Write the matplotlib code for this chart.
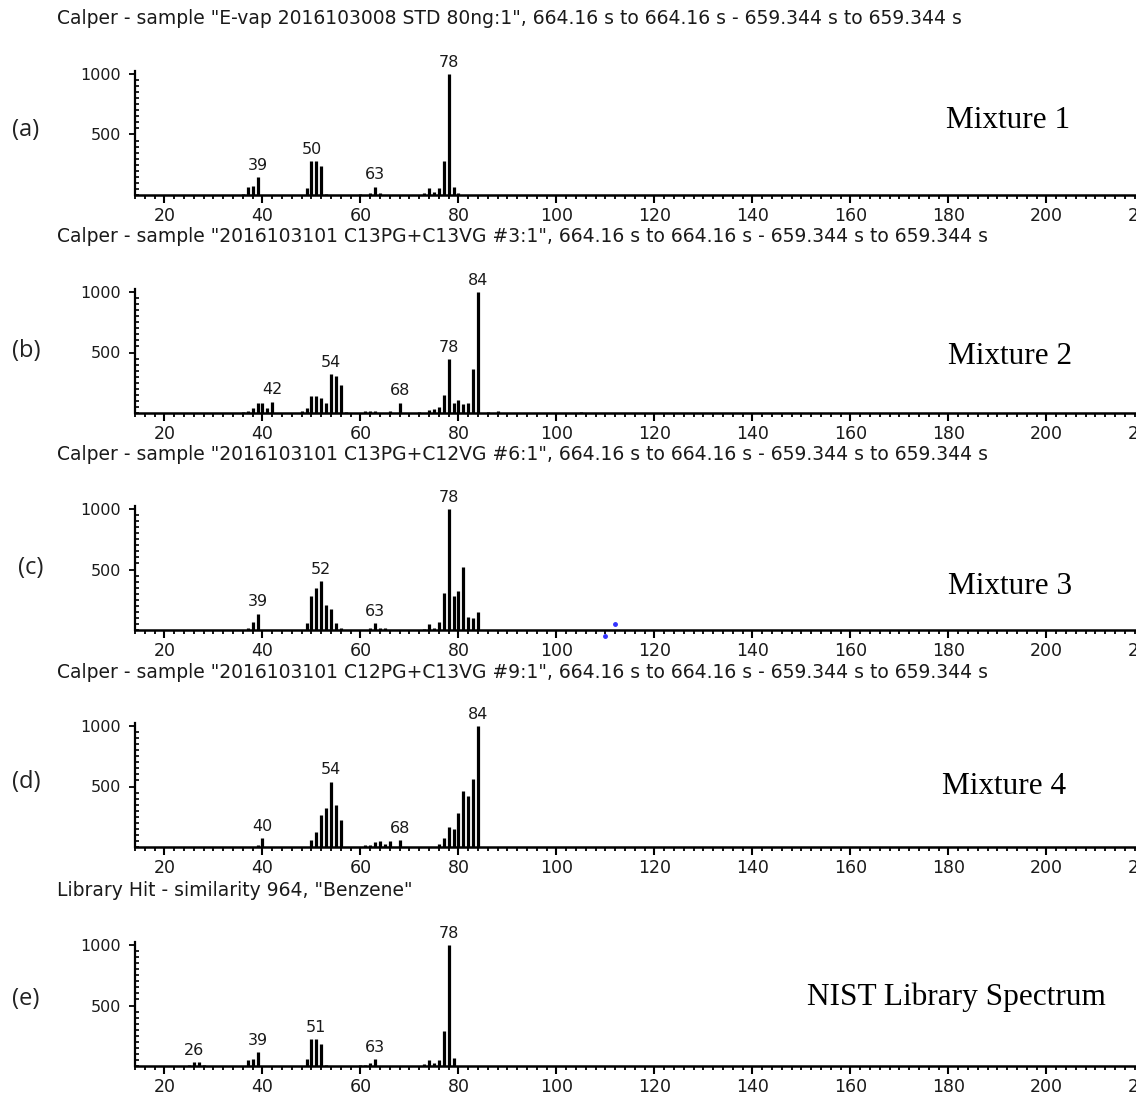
import matplotlib
matplotlib.use("Agg")
import matplotlib.pyplot as plt
from matplotlib.ticker import MultipleLocator, FixedLocator

# ---------------- data ----------------
titles = [
    'Calper - sample "E-vap 2016103008 STD 80ng:1", 664.16 s to 664.16 s - 659.344 s to 659.344 s',
    'Calper - sample "2016103101 C13PG+C13VG #3:1", 664.16 s to 664.16 s - 659.344 s to 659.344 s',
    'Calper - sample "2016103101 C13PG+C12VG #6:1", 664.16 s to 664.16 s - 659.344 s to 659.344 s',
    'Calper - sample "2016103101 C12PG+C13VG #9:1", 664.16 s to 664.16 s - 659.344 s to 659.344 s',
    'Library Hit - similarity 964, "Benzene"',
]
panel_tags = ["(a)", "(b)", "(c)", "(d)", "(e)"]
panel_names = ["Mixture 1", "Mixture 2", "Mixture 3", "Mixture 4", "NIST Library Spectrum"]

mz_a = [36, 37, 38, 39, 49, 50, 51, 52, 53, 60, 62, 63, 64, 73, 74, 75, 76, 77, 78, 79, 80]
int_a = [12, 69, 74, 146, 55, 281, 281, 242, 10, 12, 19, 69, 18, 19, 55, 28, 55, 281, 1000, 69, 15]
lab_a = [39, 50, 63, 78]

mz_b = [36, 37, 38, 39, 40, 41, 42, 48, 49, 50, 51, 52, 53, 54, 55, 56, 57,
        61, 62, 63, 66, 68, 72, 74, 75, 76, 77, 78, 79, 80, 81, 82, 83, 84, 86, 88, 105]
int_b = [10, 20, 45, 80, 80, 45, 95, 20, 45, 140, 140, 120, 80, 322, 308, 230, 12,
         15, 20, 18, 20, 86, 12, 25, 30, 50, 146, 443, 86, 105, 73, 86, 365, 1000, 10, 15, 8]
lab_b = [42, 54, 68, 78, 84]

mz_c = [37, 38, 39, 49, 50, 51, 52, 53, 54, 55, 56, 62, 63, 64, 65,
        73, 74, 75, 76, 77, 78, 79, 80, 81, 82, 83, 84]
int_c = [20, 70, 135, 55, 283, 347, 403, 208, 172, 55, 15, 15, 55, 20, 20,
         12, 47, 15, 70, 309, 1000, 281, 323, 518, 111, 100, 152]
lab_c = [39, 52, 63, 78]
artifact_c_mz = [110, 112]
artifact_c_int = [-50, 50]

mz_d = [39, 40, 50, 51, 52, 53, 54, 55, 56, 61, 62, 63, 64, 65, 66, 68,
        76, 77, 78, 79, 80, 81, 82, 83, 84]
int_d = [14, 76, 58, 128, 266, 322, 540, 343, 226, 20, 14, 42, 48, 28, 48, 56,
         28, 75, 168, 151, 284, 462, 420, 560, 1000]
lab_d = [40, 54, 68, 84]

mz_e = [25, 26, 27, 28, 37, 38, 39, 49, 50, 51, 52, 53, 60, 61, 62, 63,
        73, 74, 75, 76, 77, 78, 79]
int_e = [10, 33, 33, 10, 46, 55, 114, 55, 223, 223, 185, 10, 10, 12, 27, 55,
         15, 46, 27, 46, 286, 1000, 68]
lab_e = [26, 39, 51, 63, 78]

xtick_values = [20, 40, 60, 80, 100, 120, 140, 160, 180, 200, 220]
ytick_values = [500, 1000]

panels = [
    (mz_a, int_a, lab_a),
    (mz_b, int_b, lab_b),
    (mz_c, int_c, lab_c),
    (mz_d, int_d, lab_d),
    (mz_e, int_e, lab_e),
]

# ---------------- layout (pixels) ----------------
W, H = 1136, 1099
baselines = [195, 413, 630, 847, 1066]
px_per_1000 = 121.0
ymax = 1025
x_left_px = 135
px_per_unit = 4.9
xmin, xmax = 14, 222

title_y = [18, 237, 455, 672, 890]
tag_xy = [(26, 130), (26, 351), (31, 568), (26, 782), (26, 999)]
name_xy = [(1008, 120), (1010, 356), (1010, 587), (1004, 786), (956, 997)]

fig = plt.figure(figsize=(W / 100, H / 100), dpi=100)
fig.patch.set_facecolor("white")

txt_color = "#1a1a1a"
for i, (mz, inten, labs) in enumerate(panels):
    ax_h = ymax / 1000 * px_per_1000
    ax_w = (xmax - xmin) * px_per_unit
    left = x_left_px / W
    bottom = 1 - baselines[i] / H
    ax = fig.add_axes([left, bottom, ax_w / W, ax_h / H])
    ax.vlines(mz, 0, inten, color="black", lw=2.3)
    for m in labs:
        v = inten[mz.index(m)]
        ax.annotate(str(m), (m, v), xytext=(0, 3), textcoords="offset points",
                    ha="center", va="bottom", fontsize=11.5, color=txt_color,
                    family="DejaVu Sans", annotation_clip=False)
    if i == 2:
        ax.plot(artifact_c_mz, artifact_c_int, "o", color="#3333ff", ms=2.5,
                clip_on=False, zorder=5)
    ax.set_xlim(xmin, xmax)
    ax.set_ylim(0, ymax)
    for s in ("top", "right"):
        ax.spines[s].set_visible(False)
    ax.spines["left"].set_linewidth(1.6)
    ax.spines["bottom"].set_linewidth(1.8)
    ax.spines["left"].set_bounds(0, ymax)
    ax.xaxis.set_major_locator(FixedLocator(xtick_values))
    ax.xaxis.set_minor_locator(MultipleLocator(2))
    ax.yaxis.set_major_locator(FixedLocator(ytick_values))
    ax.yaxis.set_minor_locator(MultipleLocator(50))
    ax.set_xticklabels([str(v) for v in xtick_values])
    ax.set_yticklabels([str(v) for v in ytick_values])
    ax.tick_params(axis="x", which="major", direction="out", length=6, width=1.5,
                   pad=2.5, labelsize=12.5, labelcolor=txt_color)
    ax.tick_params(axis="x", which="minor", direction="out", length=3, width=1.3)
    ax.tick_params(axis="y", which="major", direction="out", length=4, width=1.3,
                   pad=6, labelsize=11.5, labelcolor=txt_color)
    ax.tick_params(axis="y", which="minor", direction="in", length=3, width=1.2)
    ax.patch.set_alpha(0)

    fig.text(57 / W, 1 - title_y[i] / H, titles[i], ha="left", va="center",
             fontsize=13.5, color=txt_color, family="DejaVu Sans")
    tx, ty = tag_xy[i]
    fig.text(tx / W, 1 - ty / H, panel_tags[i], ha="center", va="center",
             fontsize=17, color="#222222", family="Open Sans")
    nx, ny = name_xy[i]
    fig.text(nx / W, 1 - ny / H, panel_names[i], ha="center", va="center",
             fontsize=22.5, color="black", family="Liberation Serif")

fig.savefig("out.png", dpi=100, facecolor="white")
